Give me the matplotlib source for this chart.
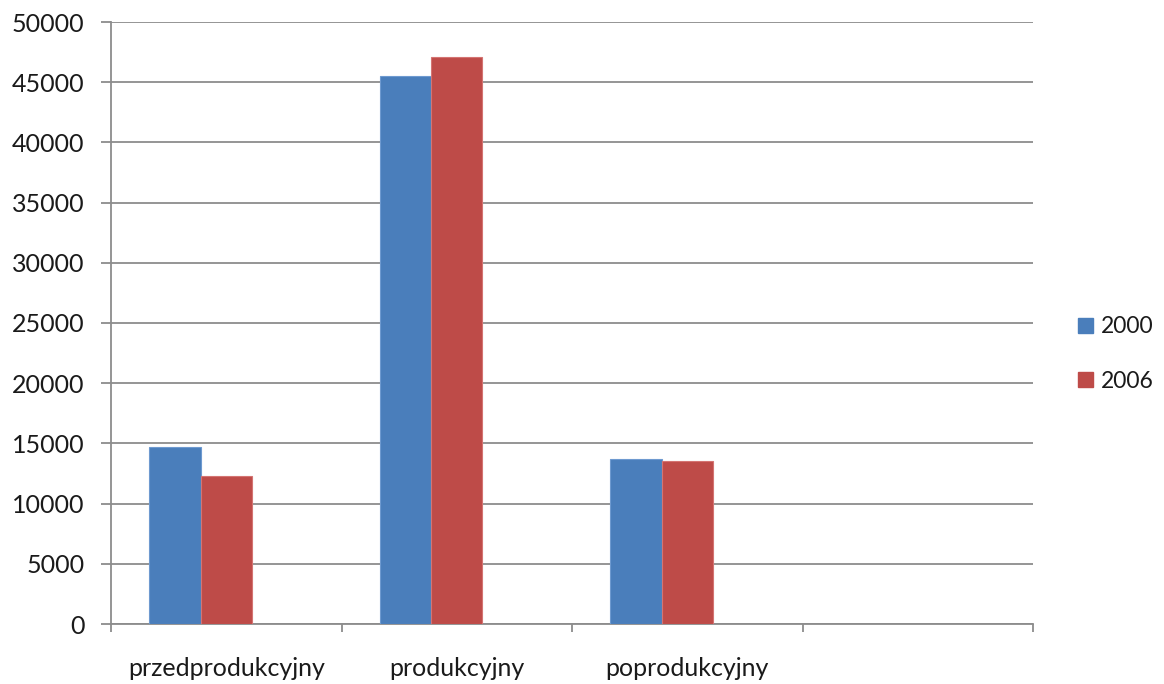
import matplotlib
matplotlib.use("Agg")
import matplotlib.pyplot as plt
import numpy as np
from matplotlib.patches import Patch

categories = ["przedprodukcyjny", "produkcyjny", "poprodukcyjny", ""]
series_names = ["2000", "2006"]
values_2000 = [14700, 45500, 13700, None]
values_2006 = [12300, 47100, 13550, None]
y_ticks = [0, 5000, 10000, 15000, 20000, 25000, 30000, 35000, 40000, 45000, 50000]

colors = ["#4A7EBB", "#BE4B48"]
edge_colors = ["#6E9AD0", "#D47472"]

plt.rcParams['font.family'] = ['Lato', 'DejaVu Sans']

fig = plt.figure(figsize=(11.64, 6.84), dpi=100)
ax = fig.add_axes([111/1164, 60/684, (1033-111)/1164, (624-22)/684])

n_slots = len(categories)
n_series_slots = 3  # Excel slot layout with third empty series
bw = 1.0 / (n_series_slots + 1.5)
gap = 0.75 * bw

for s, vals in enumerate([values_2000, values_2006]):
    xs, hs = [], []
    for i, v in enumerate(vals):
        if v is None:
            continue
        xs.append(i + gap + bw * (s + 0.5))
        hs.append(v)
    ax.bar(xs, hs, width=bw, color=colors[s], edgecolor=edge_colors[s],
           linewidth=0.8, zorder=3)

ax.set_xlim(0, n_slots)
ax.set_ylim(0, 50000)
ax.set_yticks(y_ticks)
ax.set_yticklabels([str(t) for t in y_ticks])
ax.yaxis.grid(True, color="#8C8C8C", linewidth=1.3, zorder=0)
ax.set_axisbelow(True)

ax.set_xticks(np.arange(0, n_slots + 1))
ax.set_xticklabels([])
ax.set_xticks(np.arange(n_slots) + 0.5, minor=True)
ax.set_xticklabels(categories, minor=True)
ax.tick_params(axis='x', which='major', length=6, color="#8C8C8C", width=1.3, direction='out')
ax.tick_params(axis='x', which='minor', length=0, pad=24, labelsize=18, labelcolor="#1a1a1a")
ax.tick_params(axis='y', length=7, color="#8C8C8C", width=1.3, labelsize=18,
               labelcolor="#1a1a1a", pad=12)

for sp in ["top", "right"]:
    ax.spines[sp].set_visible(False)
for sp in ["left", "bottom"]:
    ax.spines[sp].set_color("#8C8C8C")
    ax.spines[sp].set_linewidth(1.3)

handles = [Patch(facecolor=colors[i], edgecolor=colors[i]) for i in range(2)]
fig.legend(handles, series_names, loc="center left",
           bbox_to_anchor=(1057/1164, 1 - 354/684), frameon=False,
           fontsize=16.5, handlelength=0.65, handleheight=0.65,
           handletextpad=0.35, labelspacing=1.45, labelcolor="#1a1a1a")

fig.savefig("out.png", dpi=100)
